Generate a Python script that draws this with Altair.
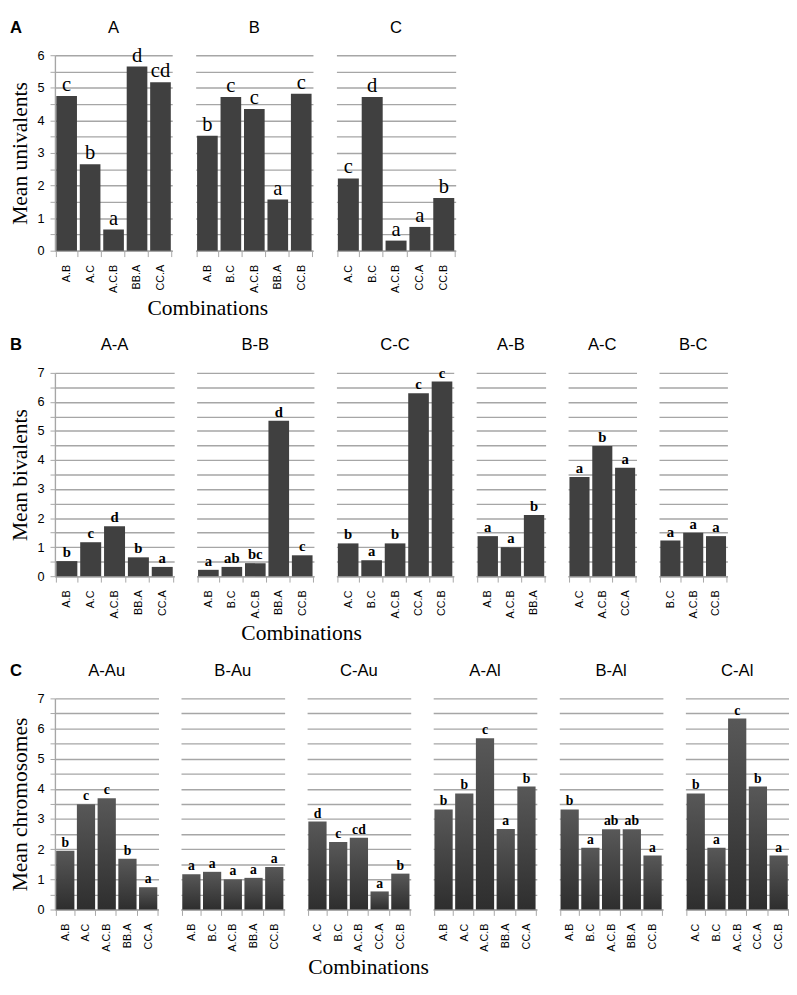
import altair as alt
import pandas as pd

SERIF = "Liberation Serif"
SANS = "Liberation Sans"
GRID = "#a6a6a6"
BAR = "#404040"

# ---------------- Panel A : Mean univalents ----------------
A_TITLES = ["A", "B", "C"]
A_CATS = [["A.B", "A.C", "A.C.B", "BB.A", "CC.A"],
          ["A.B", "B.C", "A.C.B", "BB.A", "CC.B"],
          ["A.C", "B.C", "A.C.B", "CC.A", "CC.B"]]
A_VALS = [[4.75, 2.65, 0.65, 5.65, 5.17],
          [3.53, 4.72, 4.35, 1.57, 4.82],
          [2.22, 4.72, 0.31, 0.73, 1.62]]
A_SIG = [["c", "b", "a", "d", "cd"],
         ["b", "c", "c", "a", "c"],
         ["c", "d", "a", "a", "b"]]
A_WIDTHS = [120, 120, 122]

# ---------------- Panel B : Mean bivalents ----------------
B_TITLES = ["A-A", "B-B", "C-C", "A-B", "A-C", "B-C"]
B_CATS = [["A.B", "A.C", "A.C.B", "BB.A", "CC.A"],
          ["A.B", "B.C", "A.C.B", "BB.A", "CC.B"],
          ["A.C", "B.C", "A.C.B", "CC.A", "CC.B"],
          ["A.B", "A.C.B", "BB.A"],
          ["A.C", "A.C.B", "CC.A"],
          ["B.C", "A.C.B", "CC.B"]]
B_VALS = [[0.52, 1.17, 1.72, 0.65, 0.32],
          [0.22, 0.32, 0.45, 5.35, 0.72],
          [1.13, 0.55, 1.13, 6.30, 6.70],
          [1.38, 1.00, 2.11],
          [3.42, 4.48, 3.73],
          [1.23, 1.50, 1.38]]
B_SIG = [["b", "c", "d", "b", "a"],
         ["a", "ab", "bc", "d", "c"],
         ["b", "a", "b", "c", "c"],
         ["a", "a", "b"],
         ["a", "b", "a"],
         ["a", "a", "a"]]
B_WIDTHS = [122, 120, 120, 71, 70, 70]

# ---------------- Panel C : Mean chromosomes ----------------
C_TITLES = ["A-Au", "B-Au", "C-Au", "A-Al", "B-Al", "C-Al"]
C_CATS = [["A.B", "A.C", "A.C.B", "BB.A", "CC.A"],
          ["A.B", "B.C", "A.C.B", "BB.A", "CC.B"],
          ["A.C", "B.C", "A.C.B", "CC.A", "CC.B"],
          ["A.B", "A.C", "A.C.B", "BB.A", "CC.A"],
          ["A.B", "B.C", "A.C.B", "BB.A", "CC.B"],
          ["A.C", "B.C", "A.C.B", "CC.A", "CC.B"]]
C_VALS = [[1.95, 3.49, 3.69, 1.68, 0.74],
          [1.17, 1.25, 1.00, 1.05, 1.41],
          [2.92, 2.24, 2.38, 0.60, 1.19],
          [3.32, 3.85, 5.68, 2.67, 4.08],
          [3.32, 2.05, 2.66, 2.66, 1.79],
          [3.85, 2.05, 6.33, 4.08, 1.79]]
C_SIG = [["b", "c", "c", "b", "a"],
         ["a", "a", "a", "a", "a"],
         ["d", "c", "cd", "a", "b"],
         ["b", "b", "c", "a", "b"],
         ["b", "a", "ab", "ab", "a"],
         ["b", "a", "c", "b", "a"]]
C_WIDTHS = [106, 106, 106, 106, 106, 106]

C_FILL = alt.Gradient(
    gradient="linear",
    stops=[alt.GradientStop(color="#585858", offset=0),
           alt.GradientStop(color="#2e2e2e", offset=1)],
    x1=0, x2=0, y1=0, y2=1,
)

LETTER_Y = -28
LETTER_SIZE = 17
TITLE_OFFSET = -18


def sub(title, cats, vals, sig, ymax, width, height, first, ytitle,
        sig_size, sig_weight, fill, panel):
    df = pd.DataFrame({"cat": cats, "val": vals, "sig": sig})
    yvals = [i * 0.5 for i in range(int(ymax * 2) + 1)]
    if first:
        yaxis = alt.Axis(title=ytitle, titleFont=SERIF, titleFontSize=22,
                         titleFontWeight="normal", titleColor="black",
                         titlePadding=6, values=yvals,
                         labelExpr="datum.value % 1 === 0 ? format(datum.value, 'd') : ''",
                         labelFont=SANS, labelFontSize=13, labelColor="black",
                         labelPadding=6, tickSize=5, tickColor=GRID,
                         domainColor=GRID, domainWidth=1.4,
                         grid=True, gridColor=GRID, gridWidth=1.4)
    else:
        yaxis = alt.Axis(title=None, values=yvals, labels=False, ticks=False,
                         domain=False, grid=True, gridColor=GRID, gridWidth=1.4)
    x = alt.X("cat:N", sort=cats,
              scale=alt.Scale(paddingInner=0.12, paddingOuter=0.06),
              axis=alt.Axis(title=None, labelAngle=-90, labelFont=SANS,
                            labelFontSize=11, labelColor="black",
                            labelPadding=8, tickBand="extent", tickSize=6,
                            tickColor=GRID, domainColor=GRID, domainWidth=1.4))
    y = alt.Y("val:Q", scale=alt.Scale(domain=[0, ymax], nice=False), axis=yaxis)
    base = alt.Chart(df)
    bars = base.mark_bar(color=fill).encode(x=x, y=y)
    text = base.mark_text(baseline="bottom", dy=-1, font=SERIF,
                          fontSize=sig_size, fontWeight=sig_weight,
                          color="black").encode(x=x, y=y, text="sig:N")
    # panel letter (visible only on the first panel of a row; the invisible
    # copies keep every title of the row at the same height)
    lab = alt.Chart(pd.DataFrame({"t": [panel]})).mark_text(
        font=SANS, fontSize=LETTER_SIZE, fontWeight="bold", align="left",
        baseline="middle", color="black", opacity=1 if first else 0
    ).encode(x=alt.value(-46 if first else 0), y=alt.value(LETTER_Y), text="t:N")
    return alt.layer(bars, text, lab).properties(
        width=width, height=height,
        title=alt.TitleParams(title, font=SANS, fontSize=17,
                              fontWeight="normal", color="black",
                              offset=TITLE_OFFSET),
    )


def row(titles, cats, vals, sig, widths, ymax, height, ytitle, sig_size,
        sig_weight, fill, panel, spacing, dx):
    subs = [sub(titles[i], cats[i], vals[i], sig[i], ymax, widths[i], height,
                i == 0, ytitle, sig_size, sig_weight, fill, panel)
            for i in range(len(titles))]
    return alt.hconcat(*subs, spacing=spacing).properties(
        title=alt.TitleParams("Combinations", orient="bottom", anchor="middle",
                              font=SERIF, fontSize=22, fontWeight="normal",
                              color="black", offset=6, dx=dx)
    )


rowA = row(A_TITLES, A_CATS, A_VALS, A_SIG, A_WIDTHS, 6, 200,
           "Mean univalents", 21, "normal", BAR, "A", 18, -25)
rowB = row(B_TITLES, B_CATS, B_VALS, B_SIG, B_WIDTHS, 7, 208,
           "Mean bivalents", 15, "bold", BAR, "B", 17, -68)
rowC = row(C_TITLES, C_CATS, C_VALS, C_SIG, C_WIDTHS, 7, 216,
           "Mean chromosomes", 14, "bold", C_FILL, "C", 17, -31)

chart = alt.vconcat(rowA, rowB, rowC, spacing=18).properties(
    padding={"left": 0, "top": 0, "right": 0, "bottom": 0},
    background="white",
).configure_view(stroke=None)

chart.save("out.html", embed_options={"renderer": "svg", "actions": False})
